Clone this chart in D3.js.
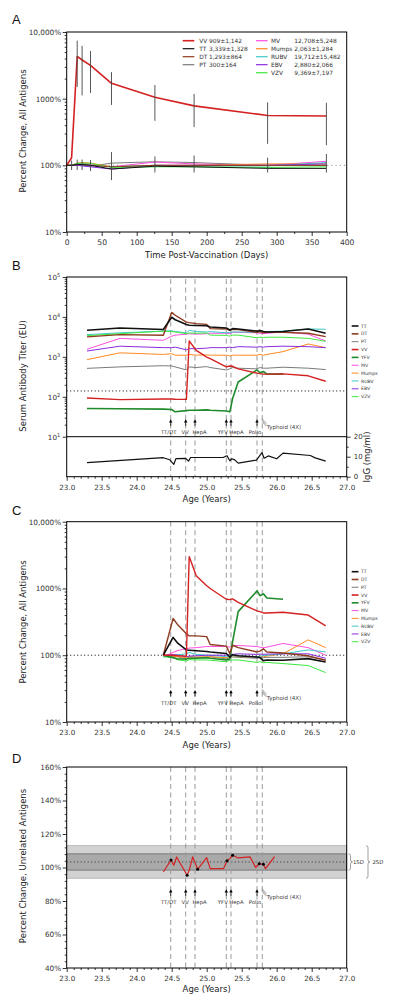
<!DOCTYPE html>
<html><head><meta charset="utf-8">
<script src="https://cdn.jsdelivr.net/npm/d3@7"></script>
<style>body{margin:0;background:#fff;} svg{display:block;}</style>
</head><body><svg id="c" width="400" height="1008"></svg>
<script>
// ---------------- DATA ----------------
const seriesNames = ["TT","DT","PT","VV","YFV","MV","Mumps","RUBV","EBV","VZV"];

// Panel A: percent change vs days post-vaccination
const A_days  = [0, 7, 15, 22, 34, 64, 126, 182, 287, 371];
const A_VV    = [100, 130, 4300, 3800, 3150, 1700, 1050, 780, 560, 550];
const A_TT    = [100, 100, 103, 103, 100, 88, 97, 95, 90, 90];
const A_DT    = [100, 100, 103, 103, 100, 95, 100, 100, 100, 100];
const A_PT    = [100, 100, 100, 100, 97, 108, 113, 110, 100, 100];
const A_MV    = [100, 100, 105, 108, 105, 95, 112, 105, 100, 115];
const A_Mumps = [100, 100, 108, 110, 108, 95, 100, 100, 105, 105];
const A_RUBV  = [100, 100, 105, 105, 100, 95, 100, 98, 98, 110];
const A_EBV   = [100, 100, 100, 98, 95, 88, 100, 100, 100, 105];
const A_VZV   = [100, 100, 107, 108, 107, 93, 95, 95, 93, 95];
const A_barDays = [15, 22, 34, 64, 126, 182, 287, 371];
const A_VV_hi = [7400, 6200, 5200, 2500, 1600, 1180, 880, 870];
const A_VV_lo = [1500, 1120, 1220, 805, 465, 375, 210, 200];
const A_otherDays = [7, 15, 22, 34, 64, 126, 182, 287, 371];
const A_other_hi = [118, 122, 122, 120, 158, 136, 140, 130, 148];
const A_other_lo = [85, 85, 85, 82, 60, 78, 78, 78, 78];
const A_legNames = ["VV","TT","DT","PT","MV","Mumps","RUBV","EBV","VZV"];
const A_legStats = ["909±1,142","3,339±1,328","1,293±864","300±164","12,708±5,248","2,063±1,284","19,712±15,482","2,880±2,066","9,369±7,197"];
const A_xTicks = [0,50,100,150,200,250,300,350,400];
const A_yTicks = [10,100,1000,10000];
const A_yLabels = ["10%","100%","1000%","10,000%"];

// Panel B: serum antibody titers (EU) vs age
const B_ages  = [23.29, 23.76, 24.38, 24.50, 24.55, 24.71, 24.75, 24.85, 25.00, 25.05, 25.28, 25.33, 25.37, 25.45, 25.72, 25.76, 25.81, 25.86, 26.09, 26.45, 26.70];
const B_TT    = [4650, 5300, 4850, 9800, 8500, 6500, 6200, 6100, 6000, 5600, 5300, 4700, 5100, 5000, 4400, 4600, 4300, 4200, 4300, 5000, 3900];
const B_DT    = [3160, 3600, 3470, 13000, 11000, 7400, 7200, 6800, 6500, 5100, 5000, 4600, 4900, 4800, 4100, 4300, 4000, 4100, 4100, 3900, 3200];
const B_PT    = [515, 560, 600, 590, 560, 470, 560, 540, 570, 540, 470, 500, 540, 520, 500, 540, 520, 520, 550, 520, 480];
const B_VV    = [93, 85, 88, 88, 87, 86, 2500, 1450, 980, 900, 560, 590, 580, 500, 390, 380, 370, 370, 375, 335, 245];
const B_YFV   = [51, 50, 49, 48, 42, 45, 46, 46, 47, 46, 44, 42, 90, 235, 470, 400, 430, 370, 370, null, null];
const B_MV    = [1550, 2900, 2600, 3300, 3500, 3700, 3800, 3700, 3800, 3900, 3900, 3800, 4100, 4100, 4000, 3900, 3800, 3900, 4200, 3700, 2500];
const B_Mumps = [850, 1260, 1150, 1200, 1100, 1100, 1150, 1100, 1120, 1100, 1100, 1050, 1100, 1100, 1100, 1150, 1100, 1150, 1350, 2100, 1700];
const B_RUBV  = [3600, 4000, 4400, 4500, 4300, 4000, 4600, 4300, 4200, 4300, 4000, 4100, 4200, 4200, 4100, 4200, 4200, 4300, 4400, 5000, 4900];
const B_EBV   = [1400, 1850, 1700, 1700, 1750, 1500, 1600, 1600, 1650, 1700, 1700, 1750, 1700, 1800, 1750, 1800, 1750, 1800, 1850, 1800, 1700];
const B_VZV   = [3400, 3800, 4400, 4300, 4200, 3800, 3950, 3900, 3950, 3500, 3450, 3300, 3500, 3500, 3000, 3100, 3050, 3100, 3100, 2900, 2450];
const B_threshold = 140;
const B_yTicks = [10, 100, 1000, 10000, 100000];
const IgG_ages = [23.29, 24.38, 24.47, 24.53, 24.56, 24.70, 24.74, 24.77, 25.00, 25.24, 25.29, 25.33, 25.36, 25.40, 25.45, 25.71, 25.79, 25.82, 25.88, 26.00, 26.09, 26.48, 26.55, 26.70];
const IgG_vals = [7.0, 9.5, 8.5, 6.2, 9.0, 9.2, 7.8, 9.6, 9.6, 9.7, 10.5, 8.0, 9.0, 8.4, 6.8, 8.3, 12.0, 9.2, 10.4, 9.0, 11.8, 10.6, 9.4, 7.8];
const IgG_ticks = [0, 10, 20];

// Panel C: percent change vs age
const C_ages  = [24.38, 24.52, 24.59, 24.71, 24.75, 24.85, 25.00, 25.05, 25.28, 25.33, 25.37, 25.45, 25.72, 25.76, 25.81, 25.86, 26.09, 26.45, 26.70];
const C_TT    = [100, 185, 150, 120, 119, 117, 114, 112, 106, 94, 102, 98, 94, 92, 83, 85, 84, 89, 79];
const C_DT    = [100, 355, 283, 210, 195, 195, 190, 145, 137, 106, 141, 130, 112, 115, 125, 112, 108, 98, 84];
const C_PT    = [100, 97, 95, 86, 95, 93, 93, 95, 88, 92, 94, 93, 90, 93, 92, 93, 93, 95, 85];
const C_VV    = [100, 100, 98, 97, 3000, 1550, 1100, 1000, 690, 680, 700, 620, 460, 450, 430, 430, 440, 400, 275];
const C_YFV   = [100, 92, 88, 88, 90, 90, 92, 90, 85, 88, 160, 450, 920, 780, 830, 720, 690, null, null];
const C_MV    = [95, 110, 118, 125, 128, 130, 135, 135, 135, 132, 140, 140, 135, 132, 130, 132, 150, 130, 100];
const C_Mumps = [100, 97, 95, 92, 95, 94, 95, 95, 92, 95, 97, 95, 95, 97, 95, 97, 105, 170, 130];
const C_RUBV  = [95, 100, 102, 105, 110, 103, 100, 100, 95, 97, 98, 97, 95, 97, 98, 100, 105, 120, 112];
const C_EBV   = [100, 102, 100, 95, 97, 98, 100, 100, 100, 102, 103, 105, 103, 104, 103, 104, 105, 105, 90];
const C_VZV   = [95, 92, 85, 82, 86, 85, 85, 84, 80, 84, 85, 85, 78, 80, 77, 78, 75, 70, 55];

// Panel D: unrelated antigens percent change
const D_ages = [24.38, 24.49, 24.53, 24.57, 24.72, 24.75, 24.80, 24.87, 25.00, 25.05, 25.24, 25.29, 25.33, 25.37, 25.45, 25.62, 25.70, 25.75, 25.81, 25.84, 25.97];
const D_vals = [97.3, 104.5, 101.3, 106.3, 95.4, 98.3, 106.3, 98.9, 105.9, 99.3, 99.3, 104.0, 105.3, 107.3, 105.7, 106.3, 100.0, 102.3, 101.9, 99.3, 106.5];
const D_dotAges = [24.49, 24.72, 24.87, 25.29, 25.37, 25.75, 25.81];
const D_mean = 103.3, D_sd = 4.85;
const D_yTicks = [40, 60, 80, 100, 120, 140, 160];

// Vaccinations
const vaccAges = [24.486, 24.70, 24.833, 25.28, 25.347, 25.719];
const vaccLabels = ["TT/DT","VV","HepA","YFV","HepA","Polio"];
const typhoidAge = 25.794;
const typhoidLabel = "Typhoid (4X)";
const ageTicks = [23.0, 23.5, 24.0, 24.5, 25.0, 25.5, 26.0, 26.5, 27.0];

// ---------------- STYLE ----------------
const colors = {TT:"#111111", DT:"#8e3b1f", PT:"#7a7a7a", VV:"#d42121", YFV:"#1f8a2a", MV:"#ff4fe0", Mumps:"#ff8a1f", RUBV:"#3ec8c8", EBV:"#8a2be2", VZV:"#3de83d"};
const widths = {TT:1.6, DT:1.4, PT:1, VV:1.4, YFV:1.6, MV:1, Mumps:1, RUBV:1, EBV:1, VZV:1};
const FONT = "'DejaVu Sans', Verdana, sans-serif";
const X0 = 66.7, X1 = 346.7;
const svg = d3.select("#c");

// ---------------- SCALES ----------------
const xA = d3.scaleLinear().domain([0,400]).range([X0,X1]);
const yA = d3.scaleLog().domain([10,10000]).range([232,32]);
const xAge = d3.scaleLinear().domain([23,27]).range([X0,X1]);
const yB = d3.scaleLog().domain([10,1e5]).range([436.7,277]);
const yG = d3.scaleLinear().domain([0,20]).range([476.7,436.7]);
const yC = d3.scaleLog().domain([10,10000]).range([722,521.7]);
const yD = d3.scaleLinear().domain([40,160]).range([968,767]);

// ---------------- HELPERS ----------------
function addText(x,y,s,size,anchor,fill){
  return svg.append("text").attr("x",x).attr("y",y).text(s).attr("font-size",size)
    .attr("text-anchor",anchor||"start").attr("fill",fill||"#222").attr("font-family",FONT);
}
function vtext(x,y,s,size){
  return svg.append("text").attr("transform",`translate(${x},${y}) rotate(-90)`).attr("text-anchor","middle")
    .attr("font-size",size).attr("fill","#222").attr("font-family",FONT).text(s);
}
function styleAxis(g, fs){
  g.select(".domain").remove();
  g.selectAll(".tick line").attr("stroke","#000").attr("stroke-width",0.8);
  g.selectAll(".tick text").attr("fill","#333").attr("font-size",fs||7).attr("font-family",FONT);
  return g;
}
function logMinors(scale){ return scale.ticks().filter(v=>Math.abs(Math.log10(v)-Math.round(Math.log10(v)))>1e-6); }
function drawSeries(xs, ys, x, y, color, w){
  const pts = xs.map((a,i)=>[a, ys[i]]).filter(p=>p[1]!=null);
  svg.append("path").datum(pts).attr("d", d3.line().x(p=>x(p[0])).y(p=>y(p[1])))
    .attr("fill","none").attr("stroke",color).attr("stroke-width",w).attr("stroke-linejoin","round");
}
function frame(y0,y1){
  svg.append("rect").attr("x",X0).attr("y",y0).attr("width",X1-X0).attr("height",y1-y0)
    .attr("fill","none").attr("stroke","#000").attr("stroke-width",1);
}
function hline(y, color, dash, w){
  svg.append("line").attr("x1",X0).attr("x2",X1).attr("y1",y).attr("y2",y)
    .attr("stroke",color).attr("stroke-width",w||1).attr("stroke-dasharray",dash||null);
}
function vaccLines(y0,y1){
  vaccAges.concat([typhoidAge]).forEach(a=>{
    svg.append("line").attr("x1",xAge(a)).attr("x2",xAge(a)).attr("y1",y0).attr("y2",y1)
      .attr("stroke","#9a9a9a").attr("stroke-width",1).attr("stroke-dasharray","5,3.5");
  });
}
const labelDx = [-2, -0.5, 4.5, -3.5, 5.5, -2];
function annotations(tipY){
  vaccAges.forEach((a,i)=>{
    const x = xAge(a);
    svg.append("line").attr("x1",x).attr("x2",x).attr("y1",tipY+2.5).attr("y2",tipY+6.5).attr("stroke","#000").attr("stroke-width",0.8);
    svg.append("path").attr("d",`M${x},${tipY} L${x-1.7},${tipY+3.2} L${x+1.7},${tipY+3.2}Z`).attr("fill","#000");
    addText(x+labelDx[i], tipY+15, vaccLabels[i], 5.3, "middle", "#333");
  });
  const xt = xAge(typhoidAge);
  for (let k=0;k<4;k++){
    svg.append("line").attr("x1",xt+k*1.2).attr("x2",xt+k*1.2).attr("y1",tipY-1+k*1.2).attr("y2",tipY+3.5+k*1.2)
      .attr("stroke","#888").attr("stroke-width",0.6);
  }
  addText(xt+4.5, tipY+9.5, typhoidLabel, 5.5, "start", "#444");
}
function ageAxis(bottomY){
  styleAxis(svg.append("g").attr("transform",`translate(0,${bottomY})`)
    .call(d3.axisBottom(xAge).tickValues(ageTicks).tickFormat(d3.format(".1f")).tickSize(4).tickPadding(4)), 7.2);
  const minors = d3.range(230,271).map(v=>v/10).filter(v=>Math.abs(v*2-Math.round(v*2))>1e-6);
  styleAxis(svg.append("g").attr("transform",`translate(0,${bottomY})`)
    .call(d3.axisBottom(xAge).tickValues(minors).tickFormat("").tickSize(2)));
}
function pctLogAxis(scale){
  styleAxis(svg.append("g").attr("transform",`translate(${X0},0)`)
    .call(d3.axisLeft(scale).tickValues(A_yTicks).tickFormat((d,i)=>A_yLabels[i]).tickSize(4).tickPadding(1.5)), 7.3);
  styleAxis(svg.append("g").attr("transform",`translate(${X0},0)`)
    .call(d3.axisLeft(scale).tickValues(logMinors(scale)).tickFormat("").tickSize(2)));
}
function sideLegend(y0, step){
  seriesNames.forEach((n,i)=>{
    const y = y0 + i*step;
    svg.append("line").attr("x1",351.7).attr("x2",358.5).attr("y1",y).attr("y2",y)
      .attr("stroke",colors[n]).attr("stroke-width",widths[n]>1.2?1.6:1);
    addText(361, y+1.6, n, 4.6, "start", "#333");
  });
}
const tableOf = (prefix) => ({TT:prefix.TT, DT:prefix.DT, PT:prefix.PT, VV:prefix.VV, YFV:prefix.YFV, MV:prefix.MV, Mumps:prefix.Mumps, RUBV:prefix.RUBV, EBV:prefix.EBV, VZV:prefix.VZV});
const drawOrder = ["PT","MV","Mumps","RUBV","EBV","VZV","YFV","DT","TT","VV"];

// ================= PANEL A =================
addText(12, 24, "A", 13, "start", "#111").attr("font-family","'Liberation Sans', Arial, sans-serif");
hline(yA(100), "#888", "1.2,3", 1);
const Atab = {TT:A_TT, DT:A_DT, PT:A_PT, MV:A_MV, Mumps:A_Mumps, RUBV:A_RUBV, EBV:A_EBV, VZV:A_VZV};
["PT","MV","Mumps","RUBV","EBV","VZV","DT","TT"].forEach(n=>drawSeries(A_days, Atab[n], xA, yA, colors[n], 1));
A_otherDays.forEach((d,i)=>{
  svg.append("line").attr("x1",xA(d)).attr("x2",xA(d)).attr("y1",yA(A_other_hi[i])).attr("y2",yA(A_other_lo[i]))
    .attr("stroke","#444").attr("stroke-width",0.9);
});
drawSeries(A_days, A_VV, xA, yA, colors.VV, 1.6);
A_barDays.forEach((d,i)=>{
  svg.append("line").attr("x1",xA(d)).attr("x2",xA(d)).attr("y1",yA(A_VV_hi[i])).attr("y2",yA(A_VV_lo[i]))
    .attr("stroke","#444").attr("stroke-width",0.9);
});
frame(32,232);
pctLogAxis(yA);
styleAxis(svg.append("g").attr("transform","translate(0,232)")
  .call(d3.axisBottom(xA).tickValues(A_xTicks).tickFormat(d3.format("d")).tickSize(4).tickPadding(4)), 7.6);
styleAxis(svg.append("g").attr("transform","translate(0,232)")
  .call(d3.axisBottom(xA).tickValues(d3.range(25,400,50)).tickFormat("").tickSize(2)));
addText((X0+X1)/2, 258, "Time Post-Vaccination (Days)", 8.5, "middle");
vtext(26, 131, "Percent Change, All Antigens", 8.5);
// legend A
A_legNames.forEach((n,i)=>{
  const col = i<4 ? 0 : 1;
  const row = i<4 ? i : i-4;
  const y = 40.7 + row*8;
  const x1 = col===0 ? 182.7 : 256;
  svg.append("line").attr("x1",x1).attr("x2",x1+11.6).attr("y1",y).attr("y2",y)
    .attr("stroke",colors[n]).attr("stroke-width", n==="VV"?1.6:1.2);
  if (col===0){
    addText(199.3, y+2, n, 5.9, "start", "#333");
    addText(209, y+2, A_legStats[i], 5.9, "start", "#333");
  } else {
    addText(271, y+2, n, 5.9, "start", "#333");
    addText(294.3, y+2, A_legStats[i], 5.9, "start", "#333");
  }
});

// ================= PANEL B =================
addText(12, 270, "B", 13, "start", "#111").attr("font-family","'Liberation Sans', Arial, sans-serif");
vaccLines(279, 476.7);
hline(yB(B_threshold), "#000", "1,2.5", 1);
const Btab = {TT:B_TT, DT:B_DT, PT:B_PT, VV:B_VV, YFV:B_YFV, MV:B_MV, Mumps:B_Mumps, RUBV:B_RUBV, EBV:B_EBV, VZV:B_VZV};
drawOrder.forEach(n=>drawSeries(B_ages, Btab[n], xAge, yB, colors[n], widths[n]));
drawSeries(IgG_ages, IgG_vals, xAge, yG, "#111", 1.2);
frame(277, 476.7);
hline(yB(10), "#000", null, 1);
annotations(419.3);
{
  const g = svg.append("g").attr("transform",`translate(${X0},0)`)
    .call(d3.axisLeft(yB).tickValues(B_yTicks).tickSize(4).tickPadding(2.5));
  styleAxis(g, 7.2);
  g.selectAll(".tick text").text("10").append("tspan").attr("dy","-0.55em").attr("font-size",5).text(d=>Math.round(Math.log10(d)));
  styleAxis(svg.append("g").attr("transform",`translate(${X0},0)`)
    .call(d3.axisLeft(yB).tickValues(logMinors(yB)).tickFormat("").tickSize(2)));
  styleAxis(svg.append("g").attr("transform",`translate(${X1},0)`)
    .call(d3.axisRight(yG).tickValues(IgG_ticks).tickSize(4).tickPadding(3)), 7);
  styleAxis(svg.append("g").attr("transform",`translate(${X1},0)`)
    .call(d3.axisRight(yG).tickValues([5,15]).tickFormat("").tickSize(2)));
}
ageAxis(476.7);
addText((X0+X1)/2, 501.5, "Age (Years)", 8.5, "middle");
vtext(26, 376, "Serum Antibody Titer (EU)", 8.5);
vtext(370, 457, "IgG (mg/ml)", 8.5);
sideLegend(326, 7.85);

// ================= PANEL C =================
addText(12, 515, "C", 13, "start", "#111").attr("font-family","'Liberation Sans', Arial, sans-serif");
vaccLines(521.7, 722);
hline(yC(100), "#000", "1,2.5", 1);
const Ctab = {TT:C_TT, DT:C_DT, PT:C_PT, VV:C_VV, YFV:C_YFV, MV:C_MV, Mumps:C_Mumps, RUBV:C_RUBV, EBV:C_EBV, VZV:C_VZV};
drawOrder.forEach(n=>drawSeries(C_ages, Ctab[n], xAge, yC, colors[n], widths[n]));
frame(521.7, 722);
annotations(690);
pctLogAxis(yC);
ageAxis(722);
addText((X0+X1)/2, 748, "Age (Years)", 8.5, "middle");
vtext(26, 622, "Percent Change, All Antigens", 8.5);
sideLegend(571.7, 7.78);

// ================= PANEL D =================
addText(12, 763, "D", 13, "start", "#111").attr("font-family","'Liberation Sans', Arial, sans-serif");
svg.append("rect").attr("x",X0).attr("width",X1-X0).attr("y",yD(D_mean+2*D_sd)).attr("height",yD(D_mean-2*D_sd)-yD(D_mean+2*D_sd))
  .attr("fill","#d2d2d2").attr("stroke","#9a9a9a").attr("stroke-width",0.6);
svg.append("rect").attr("x",X0).attr("width",X1-X0).attr("y",yD(D_mean+D_sd)).attr("height",yD(D_mean-D_sd)-yD(D_mean+D_sd))
  .attr("fill","#a9a9a9").attr("stroke","#6a6a6a").attr("stroke-width",0.8);
hline(yD(D_mean), "#333", "1,2.5", 1);
vaccLines(767, 968);
drawSeries(D_ages, D_vals, xAge, yD, colors.VV, 1.2);
D_dotAges.forEach(a=>{
  const i = D_ages.findIndex(v=>Math.abs(v-a)<1e-6);
  svg.append("circle").attr("cx",xAge(a)).attr("cy",yD(D_vals[i])).attr("r",1.5).attr("fill","#000");
});
frame(767, 968);
annotations(889.3);
styleAxis(svg.append("g").attr("transform",`translate(${X0},0)`)
  .call(d3.axisLeft(yD).tickValues(D_yTicks).tickFormat(d=>d+"%").tickSize(4).tickPadding(1.5)), 7.3);
styleAxis(svg.append("g").attr("transform",`translate(${X0},0)`)
  .call(d3.axisLeft(yD).tickValues(d3.range(40,161,4).filter(v=>v%20!==0)).tickFormat("").tickSize(2)));
ageAxis(968);
addText((X0+X1)/2, 992, "Age (Years)", 8.5, "middle");
vtext(26, 866, "Percent Change, Unrelated Antigens", 8.5);
// SD brackets
function brace(x, y1, y2){
  const ym = (y1+y2)/2;
  svg.append("path").attr("d",`M${x},${y1} Q${x+2},${y1} ${x+2},${y1+2} L${x+2},${ym-2} Q${x+2},${ym} ${x+4},${ym} Q${x+2},${ym} ${x+2},${ym+2} L${x+2},${y2-2} Q${x+2},${y2} ${x},${y2}`)
    .attr("fill","none").attr("stroke","#777").attr("stroke-width",0.7);
}
brace(348.5, yD(D_mean+D_sd), yD(D_mean-D_sd));
addText(353, yD(D_mean)+2, "1SD", 5.3, "start", "#333");
brace(366, yD(D_mean+2*D_sd), yD(D_mean-2*D_sd));
addText(372.5, yD(D_mean)+2, "2SD", 5.3, "start", "#333");
</script></body></html>
